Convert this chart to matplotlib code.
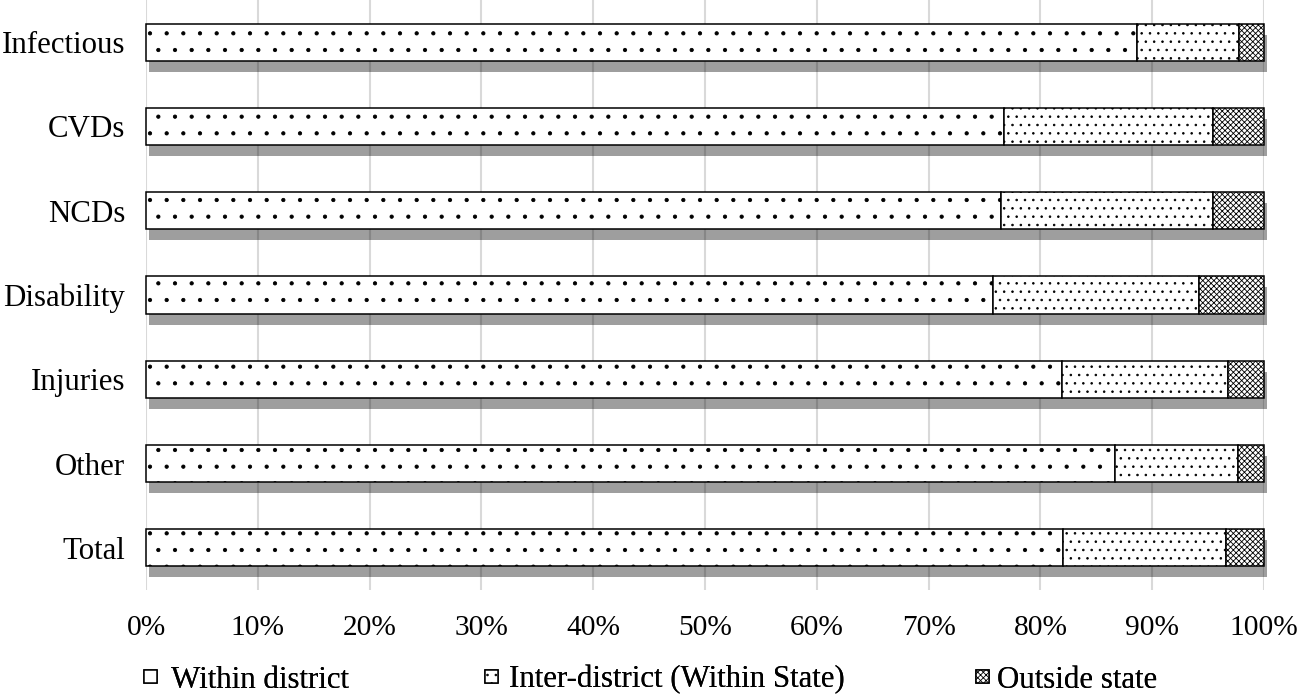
import matplotlib.pyplot as plt
import numpy as np

plt.rcParams['font.family'] = ['Liberation Serif', 'DejaVu Serif']
plt.rcParams['hatch.linewidth'] = 0.6

# data (percent of cases)
categories = ["Infectious", "CVDs", "NCDs", "Disability", "Injuries", "Other", "Total"]
within_district = [88.6, 76.7, 76.5, 75.8, 81.9, 86.7, 82.0]
inter_district = [9.2, 18.7, 18.9, 18.4, 14.9, 11.0, 14.6]
outside_state = [2.2, 4.6, 4.6, 5.8, 3.2, 2.3, 3.4]
series_names = ["Within district", "Inter-district (Within State)", "Outside state"]

W, H = 1297, 695
fig = plt.figure(figsize=(W / 100, H / 100), dpi=100)
ax = fig.add_axes([146 / W, 1 - 590 / H, (1264 - 146) / W, 590 / H])

y = np.arange(len(categories))
h = 0.44
hatches = ['.', '..', 'xxxxxx']
series = [np.array(within_district), np.array(inter_district), np.array(outside_state)]
fs = 22.2

# shadows first
left = np.zeros(len(categories))
for vals in series:
    ax.barh(y + 0.13, vals, left=left + 0.25, height=h, color='black', alpha=0.38,
            linewidth=0, zorder=1, clip_on=False)
    left = left + vals

containers = []
left = np.zeros(len(categories))
for vals, hatch, name in zip(series, hatches, series_names):
    c = ax.barh(y, vals, left=left, height=h, color='white', edgecolor='black',
                hatch=hatch, linewidth=1.1, label=name, zorder=3, clip_on=False)
    containers.append(c)
    left = left + vals

ax.set_xlim(0, 100)
ax.set_ylim(len(categories) - 0.5, -0.5)
ax.set_yticks(y)
ax.set_yticklabels(categories, fontsize=fs)
ax.set_xticks(np.arange(0, 101, 10))
ax.set_xticklabels([f"{v}%" for v in range(0, 101, 10)], fontsize=21.2)
ax.tick_params(axis='y', length=0, pad=15)
ax.tick_params(axis='x', length=0, pad=18)
ax.grid(axis='x', color='#d9d9d9', linewidth=1.5, zorder=0)
ax.set_axisbelow(True)
for s in ax.spines.values():
    s.set_visible(False)

# legend: one entry per box so each sits where it does in the original
leg_x = [144, 485, 976]
leg_pad = [0.45, 0.35, 0.25]
for c, name, lx, pad in zip(containers, series_names, leg_x, leg_pad):
    leg = fig.legend(handles=[c], labels=[name], loc='center left',
                     bbox_to_anchor=(lx / W, 1 - 680 / H), frameon=False,
                     fontsize=fs, handlelength=0.42, handleheight=0.27,
                     handletextpad=pad, borderpad=0, borderaxespad=0)
    fig.add_artist(leg)

plt.savefig("out.png", dpi=100)
